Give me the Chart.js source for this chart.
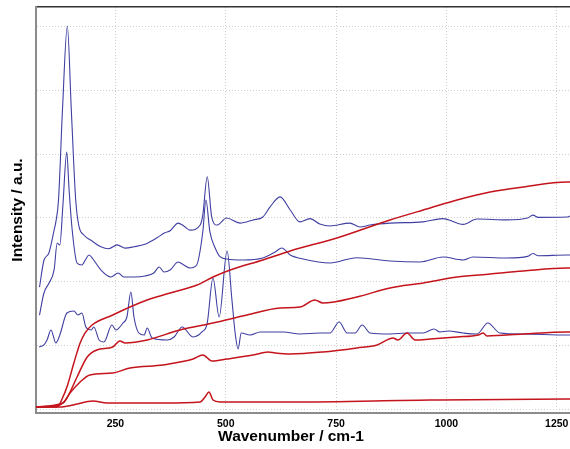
<!DOCTYPE html>
<html>
<head>
<meta charset="utf-8">
<script src="https://cdn.jsdelivr.net/npm/chart.js@4"></script>
<style>
  html, body { margin: 0; padding: 0; background: #fff; }
  #wrap { width: 570px; height: 449px; position: relative; }
</style>
</head>
<body>
<div id="wrap"><canvas id="spectra"></canvas></div>
<script>
// --- Data (wavenumber in cm-1, intensity in a.u.) ---
const xTicks = [250, 500, 750, 1000, 1250];
const yTicks = [0, 1000, 2000, 3000, 4000, 5000, 6000];
const xTitle = 'Wavenumber / cm-1';
const yTitle = 'Intensity / a.u.';

// blue spectra
const blue1Wn  = [78, 88, 99, 111, 115, 121, 130, 141, 150, 160, 167, 179, 197, 217, 235, 254, 272, 292, 317, 344, 362, 374, 392, 405, 419, 442, 448, 458, 468, 480, 502, 532, 562, 584, 600, 623, 646, 668, 691, 713, 736, 781, 804, 827, 872, 947, 992, 1038, 1069, 1137, 1184, 1196, 1208, 1273, 1280];
const blue1Int = [1920, 2340, 2450, 2810, 2940, 3280, 4690, 6000, 4690, 3280, 2880, 2730, 2640, 2550, 2520, 2580, 2530, 2550, 2590, 2690, 2770, 2800, 2920, 2875, 2810, 2890, 3050, 3645, 3020, 2890, 3000, 2920, 2970, 3016, 3170, 3330, 3125, 2940, 2990, 2906, 2875, 2920, 2860, 2890, 2920, 2940, 2990, 2900, 2984, 2970, 3000, 3045, 3010, 3016, 3031];

const blue2Wn  = [78, 88, 99.5, 111, 118, 124, 131, 139.6, 145, 152, 163, 174, 183, 190, 199, 217, 240, 256, 269, 294, 317, 337, 349, 360, 374, 392, 405, 419, 434, 448, 455, 464, 476, 487, 502, 539, 584, 612, 627, 646, 675, 736, 797, 872, 940, 992, 1038, 1060, 1137, 1184, 1196, 1208, 1273, 1280];
const blue2Int = [1484, 1828, 1984, 2188, 2609, 2578, 3203, 4031, 3438, 2812, 2297, 2266, 2359, 2422, 2359, 2188, 2078, 2141, 2078, 2078, 2094, 2141, 2234, 2156, 2188, 2312, 2266, 2219, 2266, 2786, 3281, 2786, 2531, 2395, 2359, 2344, 2375, 2469, 2531, 2422, 2359, 2297, 2380, 2328, 2312, 2390, 2344, 2391, 2375, 2400, 2445, 2410, 2422, 2422];

const blue3Wn  = [77, 88, 95, 104, 115, 124, 140, 156, 165, 174, 183, 195, 201, 213, 224, 242, 251, 267, 276, 285, 292, 303, 315, 322, 333, 367, 383, 401, 426, 446, 458, 471, 485, 503, 514, 521, 528, 535, 555, 578, 630, 668, 714, 736, 757, 775, 793, 809, 827, 872, 911, 947, 972, 985, 1004, 1038, 1069, 1094, 1121, 1174, 1273, 1280];
const blue3Int = [984, 1016, 1094, 1250, 1047, 1172, 1516, 1547, 1484, 1516, 1297, 1250, 1297, 1094, 1062, 1328, 1250, 1359, 1453, 1844, 1453, 1203, 1172, 1281, 1125, 1094, 1141, 1297, 1141, 1219, 1359, 2062, 1453, 2484, 1719, 1219, 953, 1203, 1172, 1219, 1219, 1188, 1203, 1203, 1375, 1203, 1203, 1328, 1203, 1188, 1203, 1203, 1266, 1219, 1234, 1203, 1188, 1359, 1203, 1188, 1172, 1172];

// red spectra
const redAWn  = [70, 118, 131, 142, 154, 163, 170, 181, 197, 244, 283, 328, 374, 435, 471, 510, 584, 646, 759, 872, 963, 1024, 1099, 1174, 1273, 1280];
const redAInt = [47, 47, 203, 400, 690, 900, 1047, 1200, 1328, 1484, 1609, 1734, 1828, 1953, 2078, 2188, 2344, 2484, 2703, 2969, 3156, 3281, 3406, 3484, 3562, 3562];

const redBWn  = [70, 124, 140, 163, 186, 208, 244, 260, 272, 322, 396, 471, 548, 623, 668, 702, 720, 797, 872, 947, 1024, 1099, 1174, 1273, 1280];
const redBInt = [47, 78, 188, 516, 828, 938, 984, 1078, 1047, 1094, 1250, 1359, 1484, 1594, 1609, 1719, 1672, 1766, 1906, 1984, 2078, 2125, 2172, 2219, 2219];

const redCWn  = [70, 131, 147, 170, 192, 244, 283, 358, 396, 426, 448, 469, 503, 562, 596, 612, 646, 720, 797, 843, 879, 890, 911, 929, 963, 1024, 1072, 1083, 1092, 1174, 1273, 1280];
const redCInt = [47, 109, 266, 438, 547, 578, 656, 703, 750, 797, 859, 766, 797, 859, 906, 891, 875, 906, 969, 1016, 1125, 1094, 1203, 1094, 1109, 1141, 1172, 1203, 1156, 1188, 1219, 1219];

const redDWn  = [70, 124, 154, 199, 231, 358, 442, 453, 462, 471, 487, 646, 963, 1273, 1280];
const redDInt = [47, 47, 78, 141, 109, 109, 125, 203, 281, 156, 125, 125, 156, 172, 172];

// --- Helpers ---
const pts = (xs, ys) => xs.map((x, i) => ({ x, y: ys[i] }));

const BLUE = '#3f3fa2';
const RED = '#c4141c';
const FONT = 'Liberation Sans';

function line(xs, ys, color, width) {
  return {
    data: pts(xs, ys),
    borderColor: color,
    borderWidth: width,
    pointRadius: 0,
    cubicInterpolationMode: 'monotone',
    fill: false,
  };
}

// x title sits a little left of the axis centre in the original, so draw it by hand
const xTitlePlugin = {
  id: 'xTitle',
  afterDraw(chart) {
    const { ctx, chartArea } = chart;
    ctx.save();
    ctx.font = `bold 15.5px "${FONT}"`;
    ctx.fillStyle = '#000';
    ctx.textAlign = 'center';
    ctx.textBaseline = 'middle';
    ctx.fillText(xTitle, (chartArea.left + chartArea.right) / 2 - 12, chartArea.bottom + 24);
    ctx.restore();
  },
};

const gridStyle = { color: '#cfcfcf', lineWidth: 1, drawTicks: false };

new Chart(document.getElementById('spectra'), {
  type: 'line',
  data: {
    datasets: [
      line(redAWn, redAInt, RED, 1.5),
      line(redBWn, redBInt, RED, 1.5),
      line(redCWn, redCInt, RED, 1.5),
      line(redDWn, redDInt, RED, 1.5),
      line(blue1Wn, blue1Int, BLUE, 1.1),
      line(blue2Wn, blue2Int, BLUE, 1.1),
      line(blue3Wn, blue3Int, BLUE, 1.1),
    ],
  },
  plugins: [xTitlePlugin],
  options: {
    responsive: true,
    maintainAspectRatio: false,
    animation: false,
    layout: { padding: { top: 7, right: 0, bottom: 0, left: 0 } },
    plugins: { legend: { display: false }, tooltip: { enabled: false } },
    scales: {
      x: {
        type: 'linear',
        min: 70,
        max: 1280,
        afterBuildTicks: s => { s.ticks = xTicks.map(v => ({ value: v })); },
        afterFit: s => { s.height = 36; s.paddingLeft = 0; s.paddingRight = 0; },
        grid: { ...gridStyle },
        border: { display: true, color: '#8c8c8c', width: 2, dash: [1, 2] },
        ticks: {
          color: '#000',
          padding: 5,
          maxRotation: 0,
          callback: v => String(v),
          font: { family: FONT, size: 10.5, weight: 'bold' },
        },
      },
      xTop: {
        type: 'linear',
        position: 'top',
        min: 70,
        max: 1280,
        afterFit: s => { s.height = 0; s.paddingLeft = 0; s.paddingRight = 0; },
        grid: { display: false },
        ticks: { display: false },
        border: { display: true, color: '#333', width: 1.5 },
      },
      y: {
        min: -47,
        max: 6297,
        afterBuildTicks: s => { s.ticks = yTicks.map(v => ({ value: v })); },
        afterFit: s => { s.width = 36; },
        grid: { ...gridStyle },
        border: { display: true, color: '#8c8c8c', width: 2, dash: [1, 2] },
        ticks: { display: false },
        title: {
          display: true,
          text: yTitle,
          color: '#000',
          padding: { top: 8, bottom: 0 },
          font: { family: FONT, size: 15.5, weight: 'bold' },
        },
      },
    },
  },
});
</script>
</body>
</html>
